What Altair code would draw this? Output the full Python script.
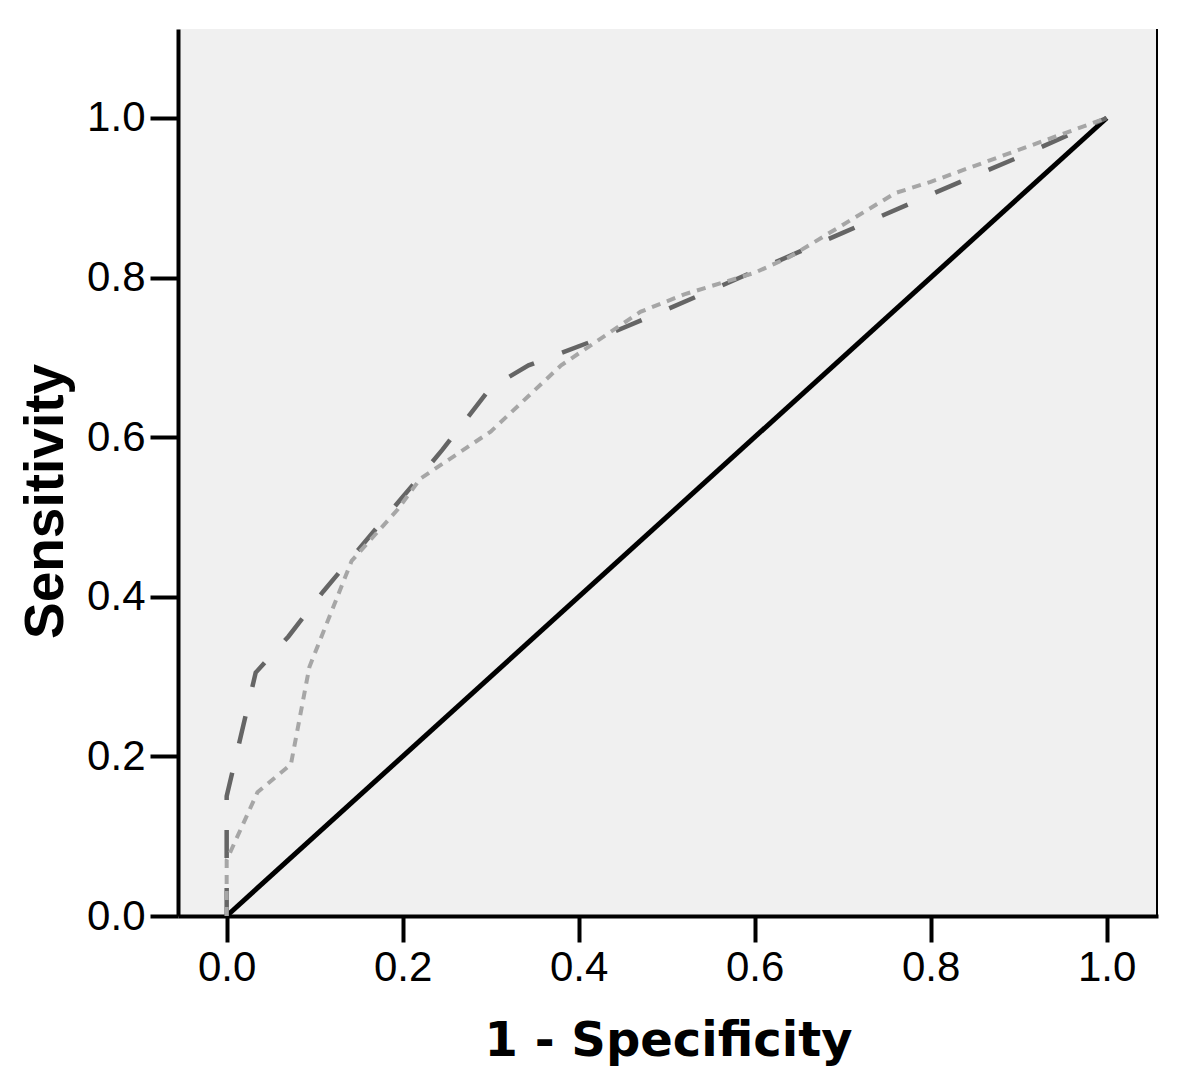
import altair as alt
import pandas as pd

# ROC curve 1 (dark, long dashes)
dark_x = [0.0, 0.0, 0.033, 0.07, 0.11, 0.2, 0.245, 0.30, 0.343, 0.41, 0.5, 0.6, 0.7, 0.8, 0.9, 1.0]
dark_y = [0.0, 0.15, 0.305, 0.35, 0.407, 0.525, 0.584, 0.662, 0.69, 0.718, 0.76, 0.808, 0.856, 0.904, 0.951, 1.0]

# ROC curve 2 (light, short dashes)
light_x = [0.0, 0.0, 0.035, 0.073, 0.094, 0.142, 0.194, 0.22, 0.30, 0.38, 0.47, 0.52, 0.6, 0.64, 0.7, 0.76, 0.8, 0.9, 1.0]
light_y = [0.0, 0.07, 0.155, 0.19, 0.312, 0.445, 0.509, 0.548, 0.607, 0.69, 0.757, 0.779, 0.806, 0.826, 0.866, 0.906, 0.92, 0.96, 1.0]

# reference line
diag_x = [0.0, 1.0]
diag_y = [0.0, 1.0]

tick_vals = [0.0, 0.2, 0.4, 0.6, 0.8, 1.0]

dark = pd.DataFrame({"x": dark_x, "y": dark_y, "i": range(len(dark_x))})
light = pd.DataFrame({"x": light_x, "y": light_y, "i": range(len(light_x))})
diag = pd.DataFrame({"x": diag_x, "y": diag_y, "i": range(len(diag_x))})

xscale = alt.Scale(domain=[-0.0553, 1.0583], nice=False, zero=False)
yscale = alt.Scale(domain=[0.0, 1.1115], nice=False, zero=False)

xaxis = alt.Axis(
    title="1 - Specificity", values=tick_vals, format=".1f", grid=False,
    domainColor="black", domainWidth=4, tickColor="black", tickWidth=4, tickSize=26,
    labelFont="Liberation Sans", labelFontSize=42, labelColor="black",
    labelBaseline="alphabetic", labelPadding=38, labelFlush=False,
    titleFont="DejaVu Sans", titleFontSize=48, titleFontWeight="bold", titleColor="black",
    titleBaseline="alphabetic", titleY=139,
)
yaxis = alt.Axis(
    title="Sensitivity", values=tick_vals, format=".1f", grid=False,
    domainColor="black", domainWidth=4, tickColor="black", tickWidth=4, tickSize=28,
    labelFont="Liberation Sans", labelFontSize=42, labelColor="black",
    labelPadding=5, labelFlush=False,
    titleFont="Liberation Sans", titleFontSize=55, titleFontWeight="bold", titleColor="black",
    titleBaseline="alphabetic", titleAngle=270, titleAlign="center", titleX=-116, titleY=472,
)

diag_line = alt.Chart(diag).mark_line(color="black", strokeWidth=5).encode(
    x=alt.X("x:Q", scale=xscale, axis=xaxis),
    y=alt.Y("y:Q", scale=yscale, axis=yaxis),
    order="i:O",
)
dark_line = alt.Chart(dark).mark_line(color="#656565", strokeWidth=4.5, strokeDash=[28, 30]).encode(
    x=alt.X("x:Q", scale=xscale),
    y=alt.Y("y:Q", scale=yscale),
    order="i:O",
)
light_line = alt.Chart(light).mark_line(color="#a6a6a6", strokeWidth=4, strokeDash=[9, 7]).encode(
    x=alt.X("x:Q", scale=xscale),
    y=alt.Y("y:Q", scale=yscale),
    order="i:O",
)
right_border = alt.Chart(diag).mark_rule(color="black", strokeWidth=2).encode(
    x=alt.value(979), y=alt.value(0), y2=alt.value(887)
)

chart = alt.layer(diag_line, dark_line, light_line, right_border).properties(
    width=980, height=887,
    autosize=alt.AutoSizeParams(type="none"),
    padding={"left": 170, "top": 21, "right": 34, "bottom": 157},
    background="white",
).configure_view(fill="#f0f0f0", stroke=None)

chart.save("out.html", embed_options={"renderer": "svg", "actions": False})
